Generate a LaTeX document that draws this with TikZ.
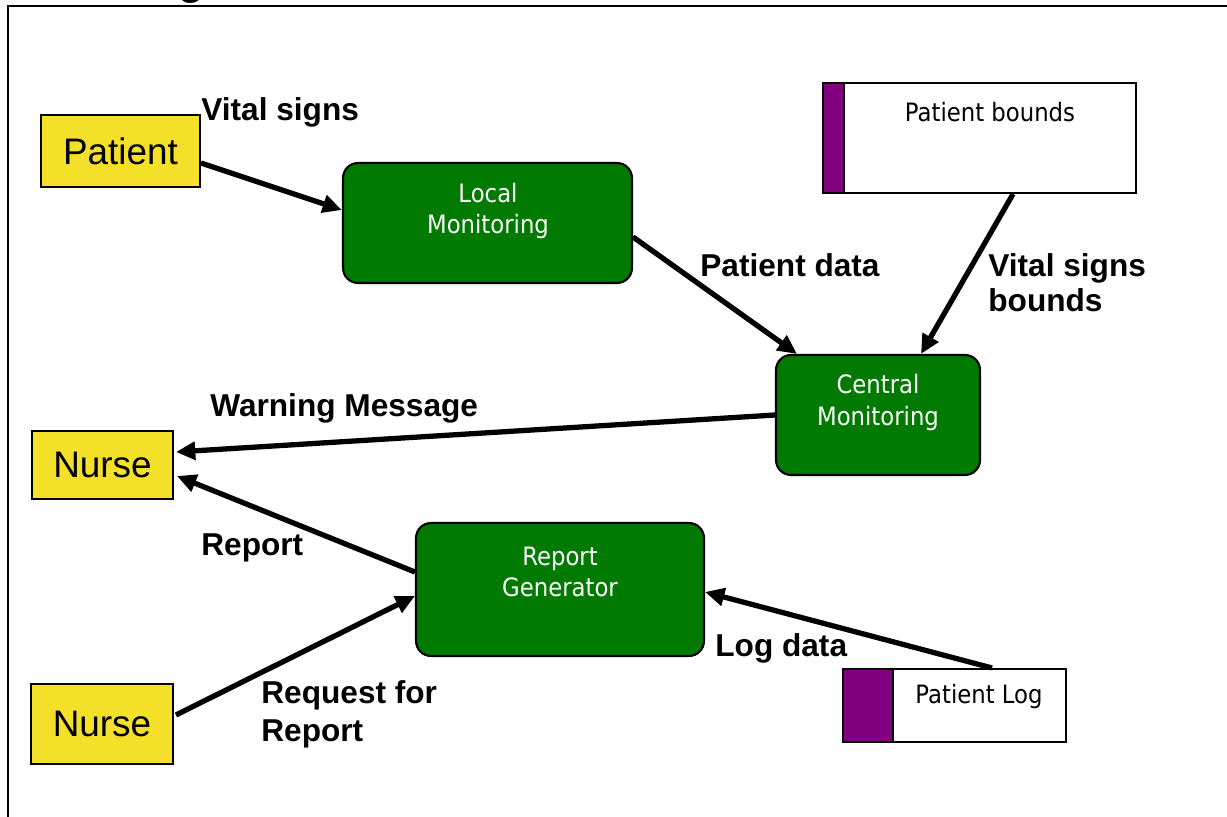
\documentclass[tikz,border=0pt]{standalone}
\usepackage{fontspec}
\setmainfont{Liberation Sans}
\newfontfamily\tah[FakeStretch=0.9]{DejaVu Sans}
\usetikzlibrary{arrows.meta,calc}
\definecolor{ybox}{RGB}{244,224,40}
\definecolor{gbox}{RGB}{0,122,0}
\definecolor{pstrip}{RGB}{128,0,128}
\begin{document}
\begin{tikzpicture}[x=0.02cm,y=-0.02cm,
  actor/.style={draw=black, line width=1.1pt, fill=ybox, inner sep=0pt, font=\fontsize{21}{24}\selectfont},
  proc/.style={draw=black, line width=1.2pt, fill=gbox, rounded corners=0.3cm, inner sep=0pt},
  ptext/.style={text=white, font=\tah\fontsize{14.4}{18}\selectfont, align=center, inner sep=0pt},
  storebox/.style={draw=black, line width=1.2pt, fill=white, inner sep=0pt},
  strip/.style={draw=black, line width=1.2pt, fill=pstrip, inner sep=0pt},
  stext/.style={font=\tah\fontsize{14.4}{18}\selectfont, inner sep=0pt},
  flow/.style={line width=3pt, -{Triangle[length=11pt,width=10pt]}},
  lbl/.style={font=\bfseries\fontsize{18}{20}\selectfont, inner sep=0pt, anchor=west, align=left}]
\useasboundingbox (0,0) rectangle (1227,817);
\fill[white] (0,0) rectangle (1227,817);
\begin{scope}
  \clip (0,0) rectangle (1227,817);
  \node[font=\bfseries\fontsize{24}{28}\selectfont, anchor=base, inner sep=0pt] (ttl) at (191,-5) {g};
\end{scope}
\draw[line width=1.6pt] (1230,6) -- (8,6) -- (8,820);

% actors
\node[actor, minimum width=3.18cm, minimum height=1.44cm] (pat) at (120.5,151) {Patient};
\node[actor, minimum width=2.82cm, minimum height=1.36cm] (n1) at (102.5,465) {Nurse};
\node[actor, minimum width=2.84cm, minimum height=1.6cm] (n2) at (102,724) {Nurse};

% processes
\node[proc, minimum width=5.78cm, minimum height=2.4cm] (lm) at (487.5,223) {};
\node[ptext] (lmt) at (488,211) {Local\\Monitoring};
\node[proc, minimum width=4.08cm, minimum height=2.4cm] (cm) at (878,415) {};
\node[ptext] (cmt) at (878,402.5) {Central\\Monitoring};
\node[proc, minimum width=5.76cm, minimum height=2.66cm] (rg) at (560,589.5) {};
\node[ptext] (rgt) at (560,572) {Report\\Generator};

% stores
\node[storebox, minimum width=6.26cm, minimum height=2.2cm] (pb) at (979.5,138) {};
\node[strip, minimum width=0.42cm, minimum height=2.2cm] (pbs) at (833.5,138) {};
\node[stext] (pbt) at (990,112) {Patient bounds};
\node[storebox, minimum width=4.46cm, minimum height=1.46cm] (log) at (954.5,705.5) {};
\node[strip, minimum width=1.0cm, minimum height=1.46cm] (logs) at (868,705.5) {};
\node[stext] (logt) at (979,697) {Patient Log};

% flows
\draw[flow] ([yshift=-0.24cm]pat.east) -- ([yshift=0.26cm]lm.west);
\draw[flow] ([yshift=-0.28cm]lm.east) -- ([xshift=-1.62cm]cm.north);
\draw[flow] ([xshift=0.67cm]pb.south) -- ([xshift=0.86cm]cm.north);
\draw[flow] (cm.west) -- ([yshift=0.26cm,xshift=0.04cm]n1.east);
\draw[flow] ([yshift=0.35cm]rg.west) -- ([yshift=-0.22cm,xshift=0.06cm]n1.east);
\draw[flow] ([yshift=0.18cm,xshift=0.04cm]n2.east) -- ([yshift=-0.13cm]rg.west);
\draw[flow] ([xshift=0.75cm]log.north) -- ([yshift=-0.05cm]rg.east);

% labels
\node[lbl] (l1) at (201,112) {Vital signs};
\node[lbl] (l2) at (700,265) {Patient data};
\node[lbl, font=\bfseries\fontsize{18}{20}\selectfont] (l3) at (988,282.5) {Vital signs\\bounds};
\node[lbl] (l4) at (210,408) {Warning Message};
\node[lbl] (l5) at (201,548) {Report};
\node[lbl, font=\bfseries\fontsize{18}{21.5}\selectfont] (l6) at (261,714) {Request for\\Report};
\node[lbl] (l7) at (715,648) {Log data};
\end{tikzpicture}
\end{document}
